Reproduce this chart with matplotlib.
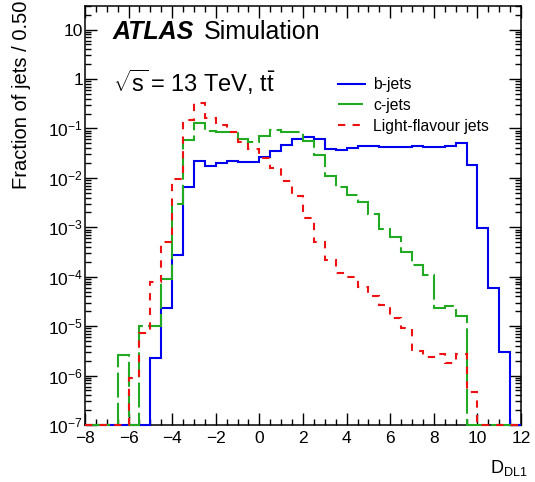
import matplotlib
matplotlib.use("Agg")
import matplotlib.pyplot as plt
import numpy as np
from matplotlib.ticker import MultipleLocator, LogLocator, FuncFormatter, NullFormatter
from matplotlib.lines import Line2D

plt.rcParams['font.family'] = ['Liberation Sans', 'DejaVu Sans']
plt.rcParams['mathtext.fontset'] = 'custom'
plt.rcParams['mathtext.rm'] = 'Liberation Sans'
plt.rcParams['mathtext.it'] = 'Liberation Sans:italic'
plt.rcParams['mathtext.bf'] = 'Liberation Sans:bold'

# bin edges of the D_DL1 histogram (width 0.5)
bin_edges = np.arange(-8.0, 12.0001, 0.5)

b_jets = [0, 0, 0, 0, 0, 0,
          2.3e-6, 2.3e-5, 2.7e-4, 6.6e-3,
          0.022, 0.017, 0.020, 0.022, 0.021, 0.021,
          0.027, 0.035, 0.047, 0.060, 0.066, 0.060,
          0.038, 0.036, 0.041, 0.045, 0.044, 0.043,
          0.042, 0.043, 0.044, 0.043, 0.043, 0.044,
          0.050, 0.018, 9.5e-4, 5.8e-5, 3.0e-6, 0]

c_jets = [0, 0, 0, 2.6e-6, 0,
          1.0e-5, 1.0e-5, 9.0e-5, 3.0e-3, 0.059,
          0.13, 0.087, 0.083, 0.083, 0.062,
          0.052, 0.071, 0.092, 0.085, 0.085,
          0.055, 0.029, 0.011, 0.0065, 0.0044,
          3.2e-3, 1.9e-3, 9.4e-4, 6.3e-4, 3.2e-4,
          1.7e-4, 1.1e-4, 2.3e-5, 2.6e-5, 1.6e-5,
          0, 0, 0, 0, 0]

light_jets = [0, 0, 0, 0,
              9.1e-7, 7.4e-6, 7.7e-5, 5.1e-4, 9.4e-3, 0.15,
              0.33, 0.16, 0.12, 0.085, 0.054, 0.038,
              0.025, 0.016, 8.8e-3, 4.2e-3, 1.55e-3, 5.1e-4,
              2.2e-4, 1.2e-4, 9.8e-5, 6.1e-5, 4.0e-5, 2.7e-5,
              1.45e-5, 9.3e-6, 3.2e-6, 2.4e-6, 2.7e-6, 1.8e-6,
              2.7e-6, 4.6e-7, 0, 0, 0, 0]

labels = ["b-jets", "c-jets", "Light-flavour jets"]
colors = ["#0000ee", "#22aa22", "#ee1111"]
styles = ["-", (0, (12, 2.5)), (0, (3.5, 3.5))]
series = [b_jets, c_jets, light_jets]

W, H = 535, 482
fig = plt.figure(figsize=(W / 100, H / 100), dpi=100)
L, R, T, B = 85, 521, 6, 425
ax = fig.add_axes([L / W, 1 - B / H, (R - L) / W, (B - T) / H])

ymin, ymax = 1e-7, 30
ax.set_yscale('log')
ax.set_xlim(-8, 12)
ax.set_ylim(ymin, ymax)

handles = []
for vals, lab, col, ls in zip(series, labels, colors, styles):
    v = np.clip(np.asarray(vals, dtype=float), ymin, None)
    ax.stairs(v, bin_edges, baseline=None, color=col, linewidth=1.5,
              linestyle=ls, clip_on=False, zorder=3)
    handles.append(Line2D([], [], color=col, linewidth=1.5, linestyle=ls))

# ticks
ax.xaxis.set_major_locator(MultipleLocator(2))
ax.xaxis.set_minor_locator(MultipleLocator(0.5))
ax.yaxis.set_major_locator(LogLocator(base=10, numticks=20))
ax.yaxis.set_minor_locator(LogLocator(base=10, subs=np.arange(2, 10), numticks=20))
ax.yaxis.set_minor_formatter(NullFormatter())


def yfmt(v, pos):
    e = int(round(np.log10(v)))
    if e == 0:
        return "1"
    if e == 1:
        return "10"
    return r"$10^{%d}$" % e


ax.yaxis.set_major_formatter(FuncFormatter(yfmt))
ax.xaxis.set_major_formatter(FuncFormatter(lambda v, p: ("%d" % v).replace("-", "\u2212")))

ax.tick_params(which='both', direction='in', top=True, right=True, width=1.0)
ax.tick_params(which='major', length=8.6)
ax.tick_params(which='minor', length=4.3)
ax.tick_params(axis='x', which='major', labelsize=12.5, pad=4)
ax.tick_params(axis='y', which='major', labelsize=12.5, pad=1.5)
for s in ax.spines.values():
    s.set_linewidth(1.1)

# axis titles
fig.text(22 / W, 1 - 1 / H, "Fraction of jets / 0.50", rotation=90,
         ha='center', va='top', fontsize=14.5)
fig.text(528 / W, 1 - 468 / H, r"D$_{\mathregular{DL1}}$", ha='right', va='center', fontsize=13)

# ATLAS labels
fig.text(113 / W, 1 - 32 / H, "ATLAS", fontsize=18, fontweight='bold', style='italic',
         ha='left', va='center')
fig.text(204 / W, 1 - 32 / H, "Simulation", fontsize=18, ha='left', va='center')
fig.text(113 / W, 1 - 82 / H, r"$\sqrt{\mathrm{s}}\,$= 13 TeV, $\mathrm{t\bar{t}}$",
         fontsize=17, ha='left', va='center')

fs = 11.3
fpx = fs * 100 / 72
ax.legend(handles, labels, loc='upper left',
          bbox_to_anchor=(338 / W, 1 - 77 / H), bbox_transform=fig.transFigure,
          frameon=False, fontsize=fs, borderpad=0, borderaxespad=0,
          handlelength=27 / fpx, handletextpad=8 / fpx, labelspacing=0.38)

fig.savefig("out.png", dpi=100)
